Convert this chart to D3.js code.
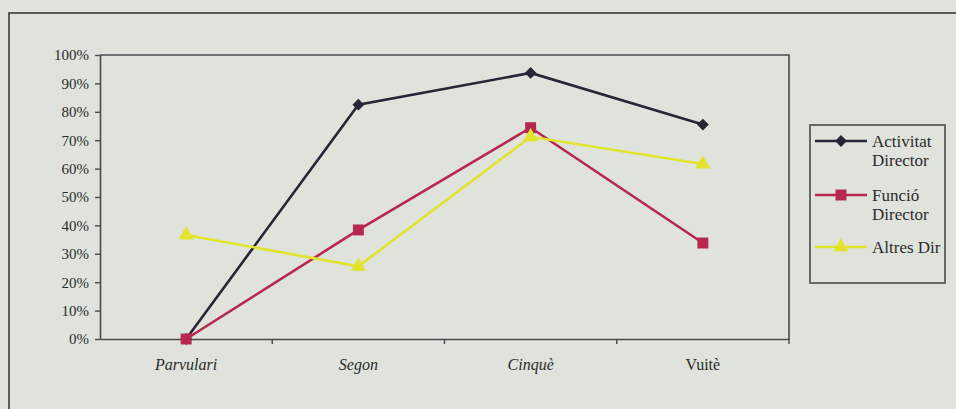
<!DOCTYPE html>
<html>
<head>
<meta charset="utf-8">
<script src="https://cdn.jsdelivr.net/npm/d3@7"></script>
<style>
  html, body { margin: 0; padding: 0; background: #dfe3dc; }
  svg { display: block; }
  text { font-family: "Liberation Serif", "DejaVu Serif", serif; fill: #2b2b2b; }
</style>
</head>
<body>
<div id="chart"></div>
<script>
// categories and series (percent)
const categories = ['Parvulari', 'Segon', 'Cinquè', 'Vuitè'];
const activitatDirector = [0, 82.5, 93.7, 75.5];
const funcioDirector = [0, 38.4, 74.4, 33.8];
const altresDir = [36.6, 25.6, 71.2, 61.6];
const seriesNames = ['Activitat Director', 'Funció Director', 'Altres Dir'];
const yTicks = [0, 10, 20, 30, 40, 50, 60, 70, 80, 90, 100];

const width = 956, height = 409;
const plot = {left: 100, right: 789, top: 55, bottom: 339};

const series = [
    {name: seriesNames[0], values: activitatDirector, color: '#262636', shape: d3.symbolSquare, size: 70, rotate: 45},
    {name: seriesNames[1], values: funcioDirector, color: '#b8284e', shape: d3.symbolSquare, size: 120, rotate: 0},
    {name: seriesNames[2], values: altresDir, color: '#e2e32c', shape: d3.symbolTriangle, size: 100, rotate: 0}
];

const svg = d3.select('#chart').append('svg')
    .attr('width', width)
    .attr('height', height);

// outer frame of the scanned figure
svg.append('rect')
    .attr('x', 9).attr('y', 13)
    .attr('width', width + 10).attr('height', height + 10)
    .attr('fill', 'none')
    .attr('stroke', '#3a3a3a')
    .attr('stroke-width', 1.6);

// scales
const xScale = d3.scaleBand().domain(categories).range([plot.left, plot.right]);
const yScale = d3.scaleLinear().domain([0, 100]).range([plot.bottom, plot.top]);

// plot area border (top and right)
svg.append('path')
    .attr('d', `M${plot.left},${plot.top}H${plot.right}V${plot.bottom}`)
    .attr('fill', 'none')
    .attr('stroke', '#4a4a4a')
    .attr('stroke-width', 1.6);

// y axis
const yAxis = d3.axisLeft(yScale)
    .tickValues(yTicks)
    .tickFormat(d => d + '%')
    .tickSizeInner(5)
    .tickSizeOuter(0)
    .tickPadding(6);

const gy = svg.append('g')
    .attr('transform', `translate(${plot.left}, 0)`)
    .call(yAxis);
gy.select('.domain').attr('stroke', '#4a4a4a').attr('stroke-width', 1.6);
gy.selectAll('.tick line').attr('stroke', '#4a4a4a').attr('stroke-width', 1.4);
gy.selectAll('.tick text')
    .style('font-size', '15px')
    .style('font-family', '"Liberation Serif", serif')
    .attr('fill', '#2b2b2b');

// x axis: ticks between categories
const xAxis = d3.axisBottom(xScale).tickSize(0).tickPadding(20);
const gx = svg.append('g')
    .attr('transform', `translate(0, ${plot.bottom})`)
    .call(xAxis);
gx.select('.domain').attr('stroke', '#4a4a4a').attr('stroke-width', 1.6);
gx.selectAll('.tick text')
    .style('font-size', '16px')
    .style('font-family', '"Liberation Serif", serif')
    .style('font-style', (d, i) => i < 3 ? 'italic' : 'normal')
    .attr('fill', '#2b2b2b');

gx.selectAll('.sep')
    .data(categories.slice(1).concat(['end']))
    .enter().append('line')
    .attr('class', 'sep')
    .attr('x1', (d, i) => plot.left + (i + 1) * xScale.bandwidth())
    .attr('x2', (d, i) => plot.left + (i + 1) * xScale.bandwidth())
    .attr('y1', 0).attr('y2', 5)
    .attr('stroke', '#4a4a4a')
    .attr('stroke-width', 1.4);

const cx = c => xScale(c) + xScale.bandwidth() / 2;

// lines
const line = d3.line()
    .x((d, i) => cx(categories[i]))
    .y(d => yScale(d));

series.forEach(function (s) {
    svg.append('path')
        .datum(s.values)
        .attr('fill', 'none')
        .attr('stroke', s.color)
        .attr('stroke-width', 2.6)
        .attr('d', line);
});

// markers
series.forEach(function (s) {
    svg.selectAll(null)
        .data(s.values)
        .enter()
        .append('path')
        .attr('d', d3.symbol().type(s.shape).size(s.size))
        .attr('transform', (d, i) => `translate(${cx(categories[i])}, ${yScale(d)}) rotate(${s.rotate})`)
        .attr('fill', s.color);
});

// legend
const legendBox = {x: 810, y: 125, w: 135, h: 158};
svg.append('rect')
    .attr('x', legendBox.x).attr('y', legendBox.y)
    .attr('width', legendBox.w).attr('height', legendBox.h)
    .attr('fill', 'none')
    .attr('stroke', '#4a4a4a')
    .attr('stroke-width', 1.6);

const legendY = [141, 195, 247];
const legend = svg.selectAll('.legend')
    .data(series)
    .enter().append('g')
    .attr('class', 'legend')
    .attr('transform', (d, i) => `translate(${legendBox.x}, ${legendY[i]})`);

legend.append('line')
    .attr('x1', 5).attr('x2', 57)
    .attr('y1', 0).attr('y2', 0)
    .attr('stroke', d => d.color)
    .attr('stroke-width', 2.6);

legend.append('path')
    .attr('d', d => d3.symbol().type(d.shape).size(d.size)())
    .attr('transform', d => `translate(31, 0) rotate(${d.rotate})`)
    .attr('fill', d => d.color);

legend.append('text')
    .attr('x', 62)
    .attr('y', 6)
    .style('font-size', '17px')
    .each(function (d) {
        const lines = d.name === 'Altres Dir' ? [d.name] : d.name.split(' ');
        d3.select(this).selectAll('tspan')
            .data(lines)
            .enter().append('tspan')
            .attr('x', 62)
            .attr('dy', (w, i) => i === 0 ? 0 : 19)
            .text(w => w);
    });
</script>
</body>
</html>
